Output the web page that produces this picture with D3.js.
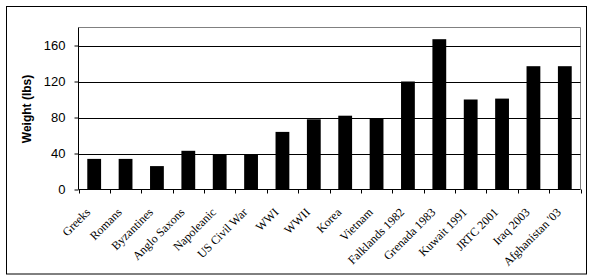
<!DOCTYPE html>
<html>
<head>
    <script src="https://d3js.org/d3.v7.min.js"></script>
    <style>
        body { margin: 0; background: #fff; }
        .ylab { font: 13px Arial, "Liberation Sans", sans-serif; }
        .xlab { font: 12px "Times New Roman", "Liberation Serif", serif; }
        .title { font: bold 12px Arial, "Liberation Sans", sans-serif; }
    </style>
</head>
<body>
<div id="chart"></div>
<script>
    // data
    const categories = ["Greeks", "Romans", "Byzantines", "Anglo Saxons", "Napoleanic",
        "US Civil War", "WWI", "WWII", "Korea", "Vietnam", "Falklands 1982",
        "Grenada 1983", "Kuwait 1991", "JRTC 2001", "Iraq 2003", "Afghanistan '03"];
    const weights = [34, 34, 26, 43, 39, 39, 64, 78, 82, 79, 120, 167, 100, 101, 137, 137];
    const yTicks = [0, 40, 80, 120, 160];

    const width = 594, height = 280;
    const plot = { left: 78.5, top: 27.5, right: 580.5, bottom: 189.5 };

    const svg = d3.select("#chart").append("svg")
        .attr("width", width)
        .attr("height", height);

    // outer frame
    svg.append("rect")
        .attr("x", 6.5).attr("y", 6.5)
        .attr("width", 580).attr("height", 267.5)
        .attr("fill", "none").attr("stroke", "#000");

    const x = d3.scaleBand()
        .domain(categories)
        .range([plot.left, plot.right])
        .paddingInner(0.56)
        .paddingOuter(0.28);

    const y = d3.scaleLinear()
        .domain([0, 180])
        .range([plot.bottom, plot.top]);

    // plot area border (gray top/right)
    svg.append("path")
        .attr("d", `M${plot.left},${plot.top}H${plot.right}V${plot.bottom}`)
        .attr("fill", "none").attr("stroke", "#808080");

    // gridlines
    svg.selectAll(".grid")
        .data(yTicks.filter(d => d > 0))
        .enter().append("line")
        .attr("x1", plot.left).attr("x2", plot.right)
        .attr("y1", d => Math.round(y(d)) + 0.5).attr("y2", d => Math.round(y(d)) + 0.5)
        .attr("stroke", "#000");

    // bars
    svg.selectAll(".bar")
        .data(weights)
        .enter().append("rect")
        .attr("x", (d, i) => x(categories[i]))
        .attr("width", x.bandwidth())
        .attr("y", d => y(d))
        .attr("height", d => y(0) - y(d))
        .attr("fill", "#000");

    // y axis
    const yAxis = d3.axisLeft(y).tickValues(yTicks).tickSize(4).tickPadding(9);
    const gy = svg.append("g")
        .attr("transform", `translate(${plot.left},0)`)
        .call(yAxis);
    gy.select(".domain").attr("d", `M0,${plot.top}V${plot.bottom}`).attr("stroke", "#000");
    gy.selectAll("text").attr("class", "ylab").attr("fill", "#000");
    gy.selectAll(".tick line").attr("stroke", "#000");

    // x axis line and ticks at slot boundaries
    svg.append("line")
        .attr("x1", plot.left).attr("x2", plot.right)
        .attr("y1", plot.bottom).attr("y2", plot.bottom)
        .attr("stroke", "#000");
    const step = x.step();
    svg.selectAll(".xtick")
        .data(d3.range(categories.length + 1))
        .enter().append("line")
        .attr("x1", i => Math.round(plot.left + i * step) + 0.5)
        .attr("x2", i => Math.round(plot.left + i * step) + 0.5)
        .attr("y1", plot.bottom).attr("y2", plot.bottom + 4)
        .attr("stroke", "#000");

    svg.selectAll(".xlab")
        .data(categories)
        .enter().append("text")
        .attr("class", "xlab")
        .attr("text-anchor", "end")
        .attr("dy", "0.35em")
        .attr("transform", d => `translate(${x(d) + x.bandwidth() / 2 - 6},210) rotate(-45)`)
        .text(d => d);

    svg.append("text")
        .attr("class", "title")
        .attr("text-anchor", "middle")
        .attr("transform", "translate(31,109) rotate(-90)")
        .text("Weight (lbs)");
</script>
</body>
</html>
